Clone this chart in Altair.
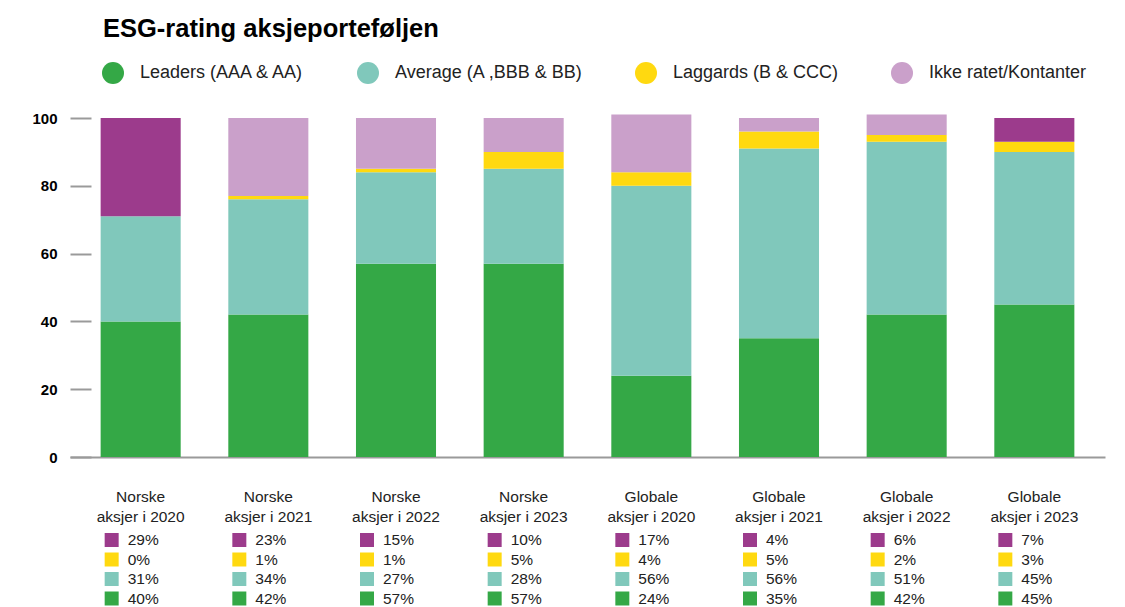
import altair as alt
import pandas as pd

categories = [
    "Norske aksjer i 2020", "Norske aksjer i 2021", "Norske aksjer i 2022", "Norske aksjer i 2023",
    "Globale aksjer i 2020", "Globale aksjer i 2021", "Globale aksjer i 2022", "Globale aksjer i 2023",
]
leaders = [40, 42, 57, 57, 24, 35, 42, 45]
average = [31, 34, 27, 28, 56, 56, 51, 45]
laggards = [0, 1, 1, 5, 4, 5, 2, 3]
ikke = [29, 23, 15, 10, 17, 4, 6, 7]
# whether the top segment of the bar is drawn in the dark purple shade
ikke_dark_in_bar = [True, False, False, False, False, False, False, True]

series_names = ["Leaders (AAA & AA)", "Average (A ,BBB & BB)", "Laggards (B & CCC)", "Ikke ratet/Kontanter"]
dark_name = "Ikke ratet/Kontanter (mørk)"
colors = ["#34a846", "#80c8bb", "#ffd910", "#caa0ca", "#9c3b8c"]

FONT = "Liberation Sans"

# bar data
rows = []
for i, cat in enumerate(categories):
    vals = [leaders[i], average[i], laggards[i], ikke[i]]
    for r, (name, v) in enumerate(zip(series_names, vals)):
        key = name
        if r == 3 and ikke_dark_in_bar[i]:
            key = dark_name
        rows.append({"kategori": cat, "serie": key, "verdi": v, "rang": r})
bar_df = pd.DataFrame(rows)

# table data under each bar
trows = []
for i, cat in enumerate(categories):
    table = [(dark_name, ikke[i]), (series_names[2], laggards[i]),
             (series_names[1], average[i]), (series_names[0], leaders[i])]
    for r, (key, v) in enumerate(table):
        trows.append({"kategori": cat, "serie": key, "rad": r, "etikett": f"{v}%"})
tab_df = pd.DataFrame(trows)

W, H = 1035, 339

label_expr = ("[substring(datum.label, 0, indexof(datum.label, ' ')), "
              "substring(datum.label, indexof(datum.label, ' ') + 1)]")

xenc = alt.X(
    "kategori:N", sort=categories, title=None,
    scale=alt.Scale(paddingInner=0.373, paddingOuter=0.24),
    axis=alt.Axis(labelExpr=label_expr, labelAngle=0, ticks=False, domainColor="#9a9a9a",
                  domainWidth=2, labelFont=FONT, labelFontSize=15.5, labelColor="#222222",
                  labelPadding=32, labelLineHeight=20),
)

color_scale = alt.Scale(domain=series_names + [dark_name], range=colors)
color_enc = alt.Color(
    "serie:N", scale=color_scale,
    legend=alt.Legend(title=None, orient="none", legendX=32, legendY=-56, direction="horizontal",
                      columns=4, columnPadding=52, symbolType="circle", symbolSize=484,
                      symbolStrokeWidth=0, symbolOpacity=1, labelFontSize=18, labelFont=FONT,
                      labelColor="#222222", labelOffset=16, values=series_names, labelLimit=400),
)

bars = alt.Chart(bar_df).mark_bar().encode(
    x=xenc,
    y=alt.Y("verdi:Q", title=None, scale=alt.Scale(domain=[0, 100], nice=False),
            axis=alt.Axis(values=[0, 20, 40, 60, 80, 100], grid=False, domain=False, tickSize=21,
                          tickWidth=2, tickColor="#9a9a9a", offset=-21, labelPadding=13,
                          labelFontWeight="bold", labelFontSize=15, labelFont=FONT,
                          labelColor="#000000")),
    color=color_enc,
    order=alt.Order("rang:Q"),
)

# table rows sit below the plot area (range in pixels from the plot's top edge)
yt = alt.Y("rad:Q", scale=alt.Scale(domain=[0, 3], range=[422, 480.5]), axis=None)

squares = alt.Chart(tab_df).mark_square(size=196, opacity=1, xOffset=-29).encode(
    x=xenc, y=yt, color=color_enc,
)

texts = alt.Chart(tab_df).mark_text(align="left", baseline="middle", dx=-13, fontSize=15.5,
                                    font=FONT, color="#222222").encode(
    x=xenc, y=yt, text="etikett:N",
)

chart = alt.layer(bars, squares, texts).resolve_scale(y="independent").properties(
    width=W, height=H,
    title=alt.Title("ESG-rating aksjeporteføljen", anchor="start", frame="group", dx=33,
                    offset=20, font=FONT, fontSize=25.5, fontWeight="bold", color="#000000"),
    padding={"left": 62, "top": 110, "right": 10, "bottom": 150},
    autosize=alt.AutoSizeParams(type="none"),
).configure_view(stroke=None)

chart.save("out.html", embed_options={"renderer": "svg", "actions": False})
